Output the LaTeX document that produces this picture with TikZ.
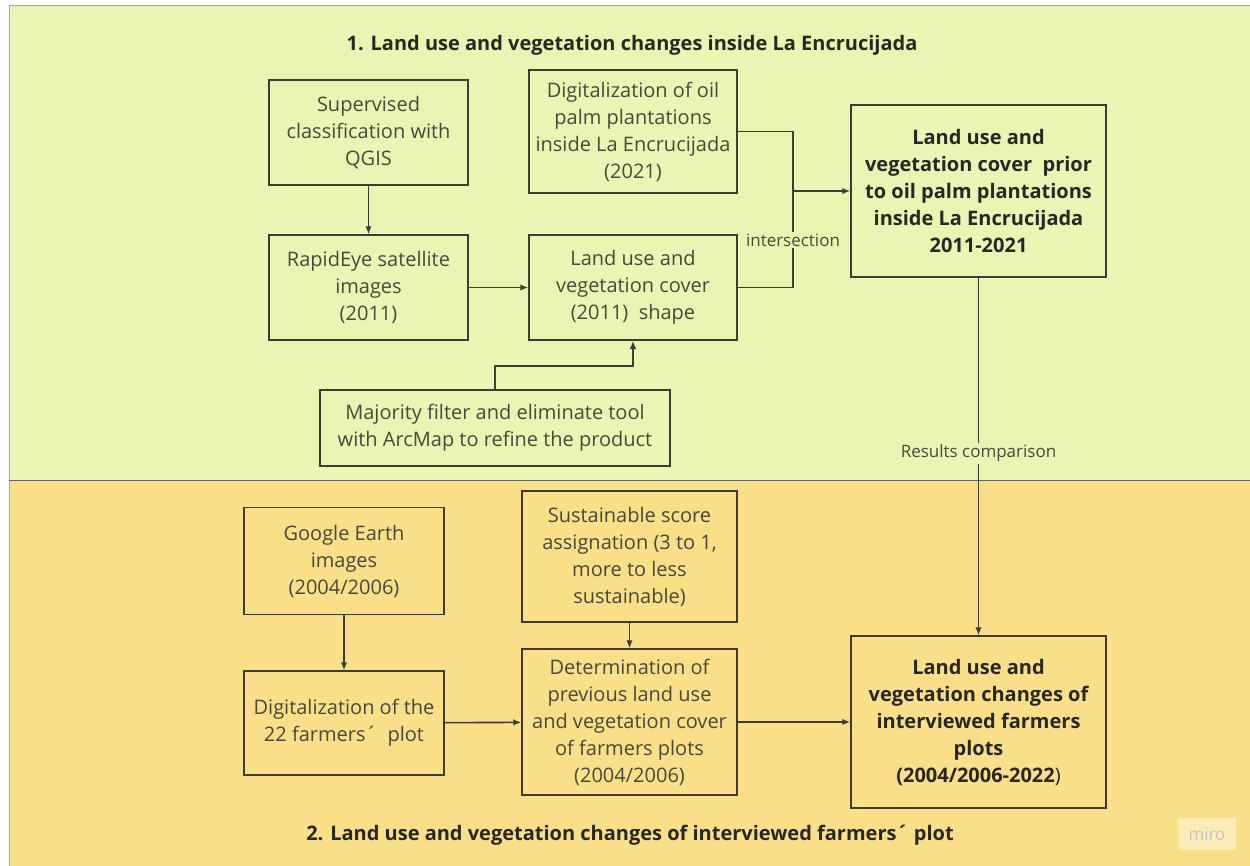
\documentclass[tikz,border=0pt]{standalone}
\usepackage{fontspec}
\setmainfont{Open Sans}
\usetikzlibrary{arrows.meta,positioning}
\definecolor{panelgreen}{RGB}{234,245,180}
\definecolor{panelyellow}{RGB}{249,223,135}
\definecolor{linegray}{RGB}{60,60,55}
\definecolor{textgray}{RGB}{72,72,60}
\definecolor{titlegray}{RGB}{40,40,35}
\tikzset{
  flowbox/.style={draw=linegray, line width=1.5pt, align=center, inner sep=0pt,
    text=textgray, font=\fontsize{20}{27}\selectfont},
  resultbox/.style={flowbox, text=titlegray, font=\bfseries\fontsize{20}{27}\selectfont},
  flowarrow/.style={draw=linegray, line width=1.6pt, -{Latex[length=8pt,width=6.5pt]}},
  flowline/.style={draw=linegray, line width=1.6pt},
  edgelabel/.style={text=textgray, font=\fontsize{17}{20}\selectfont, inner sep=2pt},
  paneltitle/.style={text=titlegray, font=\bfseries\fontsize{20}{24}\selectfont},
}
\begin{document}
\begin{tikzpicture}[x=1pt, y=-1pt]
    \useasboundingbox (0,0) rectangle (1250,865);
    % panels
    \fill[white] (0,0) rectangle (1250,865);
    \filldraw[fill=panelgreen, draw=gray!70, line width=1pt] (9,5) rectangle (1252,480);
    \filldraw[fill=panelyellow, draw=gray!70, line width=1pt] (9,480) rectangle (1252,868);
    \draw[linegray!80, line width=1pt] (9,480) -- (1252,480);
    % titles
    \node[paneltitle] (title_one) at (632,45) {1. Land use and vegetation changes inside La Encrucijada};
    \node[paneltitle] (title_two) at (630,835) {2. Land use and vegetation changes of interviewed farmers´ plot};
    % part 1 boxes
    \node[flowbox, minimum width=199pt, minimum height=105pt] (superv_cls) at (368.5,132.5)
        {Supervised\\classification with\\QGIS};
    \node[flowbox, minimum width=199pt, minimum height=105pt] (rapideye) at (368.5,287.5)
        {RapidEye satellite\\images\\(2011)};
    \node[flowbox, minimum width=208pt, minimum height=123pt] (oilpalm_dig) at (633,131.5)
        {Digitalization of oil\\palm plantations\\inside La Encrucijada\\(2021)};
    \node[flowbox, minimum width=208pt, minimum height=105pt] (cover_2011) at (633,287.5)
        {Land use and\\vegetation cover\\(2011)\ \ shape};
    \node[flowbox, minimum width=350pt, minimum height=76pt] (majority) at (495,428)
        {Majority filter and eliminate tool\\with ArcMap to refine the product};
    \node[resultbox, minimum width=255pt, minimum height=172pt] (cover_prior) at (978.5,191)
        {Land use and\\vegetation cover\ \ prior\\to oil palm plantations\\inside La Encrucijada\\2011-2021};
    % part 2 boxes
    \node[flowbox, minimum width=200pt, minimum height=107pt] (google_img) at (344,561)
        {Google Earth\\images\\(2004/2006)};
    \node[flowbox, minimum width=200pt, minimum height=104pt] (plot_dig) at (344,723)
        {Digitalization of the\\22 farmers´\ \ plot};
    \node[flowbox, minimum width=215pt, minimum height=131pt] (score) at (629.5,556.5)
        {Sustainable score\\assignation (3 to 1,\\more to less\\sustainable)};
    \node[flowbox, minimum width=215pt, minimum height=146pt] (prev_cover) at (629.5,722)
        {Determination of\\previous land use\\and vegetation cover\\of farmers plots\\(2004/2006)};
    \node[resultbox, minimum width=255pt, minimum height=172pt] (plot_changes) at (978.5,722)
        {Land use and\\vegetation changes of\\interviewed farmers\\plots\\(2004/2006-2022{\mdseries )}};
    % connectors part 1
    \coordinate (junction) at (793,191);
    \draw[flowarrow] (superv_cls) -- (rapideye);
    \draw[flowarrow] (rapideye) -- (cover_2011);
    \draw[flowarrow] (majority.north) -- ++(0,-23) -| (cover_2011.south);
    \draw[flowline] (oilpalm_dig.east) -| (junction);
    \draw[flowline] (cover_2011.east) -| (junction);
    \node[edgelabel, fill=panelgreen] (inter_lbl) at (793,240) {intersection};
    \draw[flowarrow] (junction) -- (cover_prior.west);
    % connectors part 2
    \draw[flowarrow] (cover_prior.south) -- (plot_changes.north);
    \node[edgelabel, fill=panelgreen] (compare_lbl) at (978.5,453) {Results comparison};
    \draw[flowarrow] (google_img) -- (plot_dig);
    \draw[flowarrow] (plot_dig) -- (prev_cover);
    \draw[flowarrow] (score) -- (prev_cover);
    \draw[flowarrow] (prev_cover) -- (plot_changes);
    % watermark
    \node[fill=panelyellow!60!white, text=gray!45, font=\fontsize{17}{18}\selectfont,
        minimum width=58pt, minimum height=32pt, inner sep=0pt] (miro_mark) at (1207,834) {miro};
\end{tikzpicture}
\end{document}
